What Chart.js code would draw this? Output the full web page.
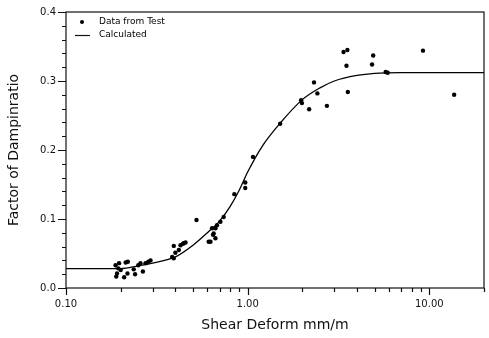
<!DOCTYPE html>
<html>
<head>
<meta charset="utf-8">
<script src="https://cdn.jsdelivr.net/npm/chart.js@4/dist/chart.umd.min.js"></script>
<style>
html,body{margin:0;padding:0;background:#fff;}
#wrap{width:489px;height:338px;}
</style>
</head>
<body>
<div id="wrap"><canvas id="c" width="489" height="338"></canvas></div>
<script>
// ---- data ----
const testX = [0.1875,0.194,0.191,0.189,0.20,0.196,0.209,0.218,0.213,0.219,0.24,0.236,0.25,0.257,0.265,0.274,0.284,0.292,
  0.392,0.40,0.418,0.44,0.455,0.392,0.384,0.427,0.445,
  0.523,0.624,0.665,0.65,0.637,0.678,0.708,0.738,0.61,0.645,0.665,
  0.845,0.97,0.97,1.07,1.51,1.97,1.99,2.18,2.32,2.42,2.73,3.37,3.54,3.50,3.56,4.91,4.84,5.75,5.90,9.23,13.7];
const testY = [0.033,0.0285,0.021,0.0165,0.026,0.036,0.0155,0.021,0.037,0.038,0.020,0.027,0.033,0.036,0.024,0.036,0.038,0.040,
  0.061,0.051,0.055,0.064,0.066,0.043,0.045,0.062,0.065,
  0.0986,0.067,0.072,0.079,0.0865,0.091,0.096,0.103,0.067,0.077,0.0865,
  0.136,0.153,0.145,0.190,0.238,0.272,0.268,0.259,0.298,0.282,0.264,0.342,0.345,0.322,0.284,0.337,0.324,0.313,0.312,0.344,0.280];
const calcX = [0.1,0.15,0.2,0.25,0.3,0.4,0.5,0.6,0.7,0.8,0.9,1.0,1.2,1.5,2.0,2.5,3.0,4.0,5.0,7.0,10,15,20];
const calcY = [0.028,0.028,0.028,0.032,0.036,0.045,0.062,0.080,0.097,0.118,0.142,0.168,0.205,0.238,0.273,0.290,0.300,0.308,0.311,0.312,0.312,0.312,0.312];
const xMajorTicks = [0.1, 1, 10];
const xTickLabels = ['0.10', '1.00', '10.00'];
const xMinorTicks = [0.2,0.3,0.4,0.5,0.6,0.7,0.8,0.9,2,3,4,5,6,7,8,9,20];
const yMajorTicks = [0, 0.1, 0.2, 0.3, 0.4];
const yTickLabels = ['0.0', '0.1', '0.2', '0.3', '0.4'];
const seriesNames = ['Data from Test', 'Calculated'];
const xTitle = 'Shear Deform mm/m';
const yTitle = 'Factor of Dampinratio';

const FONT = '"DejaVu Sans", sans-serif';

const framePlugin = {
  id: 'frame',
  afterDraw(chart) {
    const {ctx, chartArea: a, scales} = chart;
    const xs = scales.x, ys = scales.y;
    ctx.save();
    ctx.strokeStyle = '#111';
    ctx.lineWidth = 1.2;
    ctx.strokeRect(a.left, a.top, a.right - a.left, a.bottom - a.top);
    ctx.beginPath();
    for (let i = 0; i <= 20; i++) {
      const v = i * 0.02;
      const py = Math.round(ys.getPixelForValue(v)) + 0.5;
      const len = (i % 5 === 0) ? 8 : 4;
      ctx.moveTo(a.left - len, py); ctx.lineTo(a.left, py);
    }
    xMajorTicks.forEach(v => {
      const px = Math.round(xs.getPixelForValue(v)) + 0.5;
      ctx.moveTo(px, a.bottom); ctx.lineTo(px, a.bottom + 7);
    });
    xMinorTicks.forEach(v => {
      const px = Math.round(xs.getPixelForValue(v)) + 0.5;
      ctx.moveTo(px, a.bottom); ctx.lineTo(px, a.bottom + 4);
    });
    ctx.stroke();
    // legend inside plot
    ctx.fillStyle = '#000';
    ctx.beginPath();
    ctx.arc(a.left + 16, a.top + 10, 2, 0, Math.PI * 2);
    ctx.fill();
    ctx.beginPath();
    ctx.lineWidth = 1.2;
    ctx.moveTo(a.left + 9, a.top + 23.5); ctx.lineTo(a.left + 24, a.top + 23.5);
    ctx.stroke();
    ctx.font = '9px ' + FONT;
    ctx.textBaseline = 'middle';
    ctx.textAlign = 'left';
    ctx.fillText(chart.data.datasets[0].label, a.left + 33, a.top + 10);
    ctx.fillText(chart.data.datasets[1].label, a.left + 33, a.top + 23);
    ctx.restore();
  }
};

new Chart(document.getElementById('c'), {
  data: {
    datasets: [
      {
        type: 'scatter',
        label: seriesNames[0],
        data: testX.map((x, i) => ({x: x, y: testY[i]})),
        backgroundColor: '#000',
        borderColor: '#000',
        pointRadius: 2.2,
        pointBorderWidth: 0,
        order: 1
      },
      {
        type: 'line',
        label: seriesNames[1],
        data: calcX.map((x, i) => ({x: x, y: calcY[i]})),
        borderColor: '#000',
        borderWidth: 1.3,
        pointRadius: 0,
        cubicInterpolationMode: 'monotone',
        fill: false,
        order: 2
      }
    ]
  },
  options: {
    responsive: false,
    animation: false,
    devicePixelRatio: 1,
    layout: {padding: {top: 12, right: 5, left: 0, bottom: 0}},
    plugins: {legend: {display: false}, tooltip: {enabled: false}},
    scales: {
      x: {
        type: 'logarithmic',
        min: 0.1,
        max: 20,
        afterBuildTicks(scale) { scale.ticks = xMajorTicks.map(v => ({value: v})); },
        afterFit(scale) { scale.height = 50; scale.paddingLeft = 0; scale.paddingRight = 0; },
        grid: {display: false, drawTicks: false},
        border: {display: false},
        ticks: {
          autoSkip: false,
          maxRotation: 0,
          padding: 10,
          color: '#111',
          font: {family: FONT, size: 10},
          callback: (v) => { const i = xMajorTicks.indexOf(v); return i >= 0 ? xTickLabels[i] : ''; }
        },
        title: {display: true, text: xTitle, color: '#111', font: {family: FONT, size: 14}, padding: {top: 4}}
      },
      y: {
        type: 'linear',
        min: 0,
        max: 0.4,
        afterBuildTicks(scale) { scale.ticks = yMajorTicks.map(v => ({value: v})); },
        afterFit(scale) { scale.width = 66; scale.paddingTop = 0; scale.paddingBottom = 0; },
        grid: {display: false, drawTicks: false},
        border: {display: false},
        ticks: {
          padding: 10,
          color: '#111',
          font: {family: FONT, size: 10},
          callback: (v) => { const i = yMajorTicks.findIndex(t => Math.abs(t - v) < 1e-9); return i >= 0 ? yTickLabels[i] : ''; }
        },
        title: {display: true, text: yTitle, color: '#111', font: {family: FONT, size: 14}, padding: {top: 6, bottom: 4}}
      }
    }
  },
  plugins: [framePlugin]
});
</script>
</body>
</html>
